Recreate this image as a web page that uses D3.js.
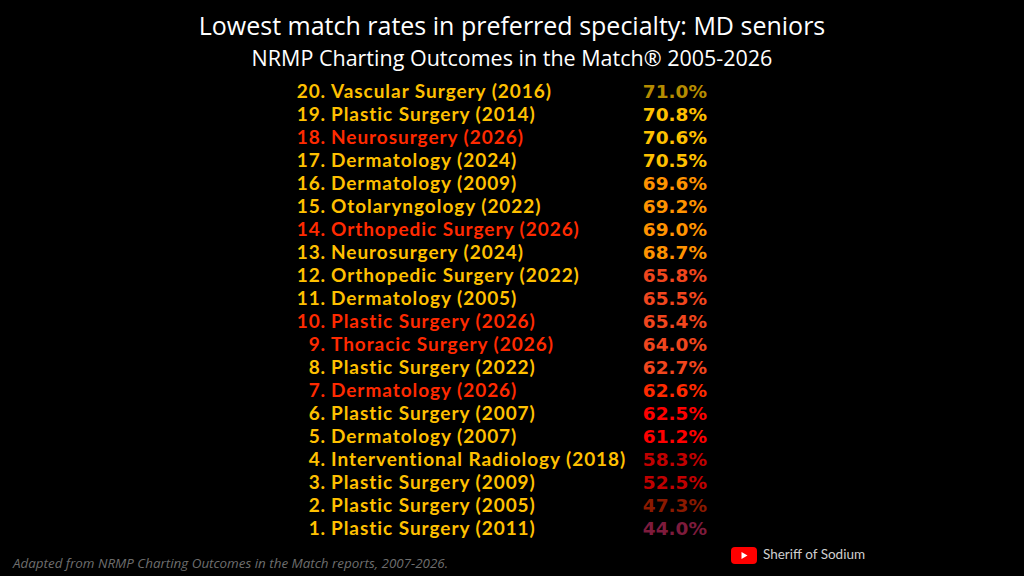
<!DOCTYPE html>
<html>
<head>
<meta charset="utf-8">
<script src="https://cdn.jsdelivr.net/npm/d3@7"></script>
<style>
  html, body { margin: 0; padding: 0; background: #000; }
  svg { display: block; }
</style>
</head>
<body>
<svg id="chart" width="1024" height="576"></svg>
<script>
// Ranked from 20 (top) down to 1 (bottom)
const ranks = [20, 19, 18, 17, 16, 15, 14, 13, 12, 11, 10, 9, 8, 7, 6, 5, 4, 3, 2, 1];
const specialties = [
  "Vascular Surgery", "Plastic Surgery", "Neurosurgery", "Dermatology",
  "Dermatology", "Otolaryngology", "Orthopedic Surgery", "Neurosurgery",
  "Orthopedic Surgery", "Dermatology", "Plastic Surgery", "Thoracic Surgery",
  "Plastic Surgery", "Dermatology", "Plastic Surgery", "Dermatology",
  "Interventional Radiology", "Plastic Surgery", "Plastic Surgery", "Plastic Surgery"
];
const years = [2016, 2014, 2026, 2024, 2009, 2022, 2026, 2024, 2022, 2005,
               2026, 2026, 2022, 2026, 2007, 2007, 2018, 2009, 2005, 2011];
const matchRates = [71.0, 70.8, 70.6, 70.5, 69.6, 69.2, 69.0, 68.7, 65.8, 65.5,
                    65.4, 64.0, 62.7, 62.6, 62.5, 61.2, 58.3, 52.5, 47.3, 44.0];
const latestYear = 2026;

const rows = ranks.map((r, i) => ({
  rank: r,
  name: specialties[i],
  year: years[i],
  rate: matchRates[i]
}));

const svg = d3.select("#chart");
const W = 1024;

// Title block
svg.append("text")
  .attr("x", W / 2).attr("y", 35)
  .attr("text-anchor", "middle")
  .attr("font-family", "'Open Sans', sans-serif")
  .attr("font-size", 25)
  .attr("fill", "#fff")
  .text("Lowest match rates in preferred specialty: MD seniors");

svg.append("text")
  .attr("x", W / 2).attr("y", 66)
  .attr("text-anchor", "middle")
  .attr("font-family", "'Open Sans', sans-serif")
  .attr("font-size", 21.5)
  .attr("fill", "#fff")
  .text("NRMP Charting Outcomes in the Match\u00AE 2005-2026");

// One row per entry, baselines spaced evenly
const y = d3.scalePoint()
  .domain(ranks)
  .range([98, 535]);

// new (latest year) entries in red, the rest in gold
const labelColor = d3.scaleOrdinal()
  .domain([true, false])
  .range(["#ff2a00", "#ffc000"]);

// percentage colour steps down with the rate
const rateColor = d3.scaleThreshold()
  .domain([45, 50, 60, 62.55, 62.65, 66, 70, 71])
  .range(["#7d1b3c", "#8a1a00", "#c00000", "#ff0000", "#ff2a00",
          "#f0461e", "#ff9300", "#ffc000", "#b58c00"]);

const rowG = svg.append("g")
  .selectAll("g")
  .data(rows)
  .enter()
  .append("g")
  .attr("transform", d => `translate(0, ${y(d.rank)})`);

const numX = 326, nameX = 331, pctX = 707;
const rowFont = 19; // kept under the 23px row pitch

rowG.append("text")
  .attr("x", numX)
  .attr("text-anchor", "end")
  .attr("font-family", "Lato, sans-serif")
  .attr("font-weight", "bold")
  .attr("font-size", rowFont)
  .attr("letter-spacing", 0.9)
  .attr("fill", d => labelColor(d.year === latestYear))
  .text(d => d.rank + ".");

rowG.append("text")
  .attr("x", nameX)
  .attr("font-family", "Lato, sans-serif")
  .attr("font-weight", "bold")
  .attr("font-size", rowFont)
  .attr("letter-spacing", 0.95)
  .attr("fill", d => labelColor(d.year === latestYear))
  .text(d => `${d.name} (${d.year})`);

rowG.append("text")
  .attr("x", pctX)
  .attr("text-anchor", "end")
  .attr("font-family", "'DejaVu Sans', sans-serif")
  .attr("font-weight", "bold")
  .attr("font-size", 18.5)
  .attr("fill", d => rateColor(d.rate))
  .text(d => d3.format(".1f")(d.rate) + "%");

// Footer
svg.append("text")
  .attr("x", 13).attr("y", 568)
  .attr("font-family", "'Open Sans', sans-serif")
  .attr("font-style", "italic")
  .attr("font-size", 13.4)
  .attr("fill", "#6e6e6e")
  .text("Adapted from NRMP Charting Outcomes in the Match reports, 2007-2026.");

const yt = svg.append("g").attr("transform", "translate(731, 547)");
yt.append("rect")
  .attr("width", 26).attr("height", 17).attr("rx", 4)
  .attr("fill", "#ff0000");
yt.append("path")
  .attr("d", "M10.5,5 L10.5,12 L16.5,8.5 Z")
  .attr("fill", "#fff");

svg.append("text")
  .attr("x", 763).attr("y", 559)
  .attr("font-family", "Lato, sans-serif")
  .attr("font-size", 13.5)
  .attr("fill", "#cfcfcf")
  .text("Sheriff of Sodium");
</script>
</body>
</html>
